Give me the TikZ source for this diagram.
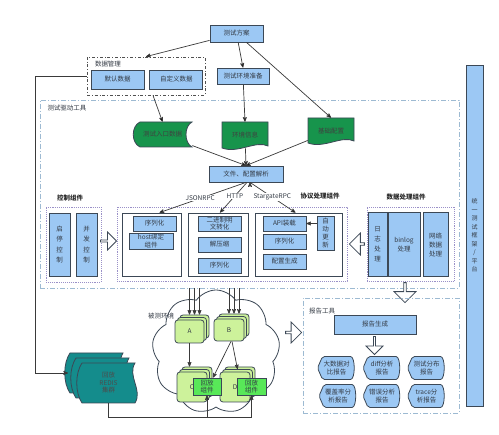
\documentclass[tikz,border=0pt]{standalone}
\usepackage{fontspec}
\setmainfont{Noto Sans CJK SC}
\usetikzlibrary{arrows,positioning,calc,shapes.arrows,shapes.symbols}
\definecolor{boxblue}{HTML}{9CC8F4}
\definecolor{boxline}{HTML}{3C4856}
\definecolor{txtgray}{HTML}{333A44}
\definecolor{linegray}{HTML}{3A3A3A}
\definecolor{groupgray}{HTML}{505050}
\definecolor{toolblue}{HTML}{9DBAD2}
\definecolor{dotpurple}{HTML}{9A90C8}
\definecolor{darkgreen}{HTML}{17944C}
\definecolor{lightgreen}{HTML}{CDF29B}
\definecolor{replaygreen}{HTML}{58E858}
\definecolor{teal}{HTML}{148C8C}

\begin{document}
\begin{tikzpicture}[x=1pt, y=-1pt, >=stealth', semithick, font=\fontsize{6.5}{7.5}\selectfont]
\tikzstyle{blue box}=[draw=boxline, fill=boxblue, line width=0.8pt, inner sep=0pt, align=center, text=txtgray]
\tikzstyle{white box}=[draw=boxline, fill=white, line width=0.8pt, inner sep=0pt]
\tikzstyle{group}=[draw=groupgray, dash dot, line width=0.8pt, inner sep=0pt]
\tikzstyle{tool}=[draw=toolblue, dash pattern=on 5pt off 2pt on 1pt off 2pt, line width=0.6pt, inner sep=0pt]
\tikzstyle{dots}=[draw=dotpurple, densely dotted, line width=0.9pt, inner sep=0pt]
\tikzstyle{green shape}=[draw=boxline, fill=darkgreen, line width=0.8pt]
\tikzstyle{green text}=[inner sep=0pt, text=black!75]
\tikzstyle{cell}=[draw=boxline, fill=lightgreen, rounded corners=3pt, line width=0.8pt, text=txtgray]
\tikzstyle{replay}=[draw=boxline, fill=replaygreen, line width=0.8pt, align=center, inner sep=0pt, text=txtgray, minimum height=17pt]
\tikzstyle{hollow}=[single arrow, draw=boxline, fill=white, line width=0.8pt, inner sep=0pt, single arrow head extend=3pt]
\tikzstyle{report}=[draw=boxline, fill=boxblue, line width=0.8pt, rounded corners=2pt]
\tikzstyle{title}=[font=\fontsize{6.5}{7.5}\selectfont\bfseries, text=black!85]
\tikzstyle{link}=[->, line width=0.7pt, draw=linegray]
\tikzstyle{proto label}=[fill=white, inner sep=0.5pt, text=txtgray]

\fill[white] (0,0) rectangle (499,435);
\useasboundingbox (0,0) rectangle (499,435);

% plan and data
\node[blue box, minimum width=53pt, minimum height=17pt] (plan) at (236.5,33.5) {测试方案};
\node[group, minimum width=118pt, minimum height=38pt]   (dm) at (146,76) {};
\node[text=txtgray]                                        (dmlabel) at (108,64) {数据管理};
\node[blue box, minimum width=53pt, minimum height=19pt] (defdata) at (117.5,79.5) {默认数据};
\node[blue box, minimum width=53pt, minimum height=19pt] (cusdata) [right=5pt of defdata] {自定义数据};
\node[blue box, minimum width=52pt, minimum height=16pt] (env) at (243,76) {测试环境准备};

% test driver tool
\node[tool, minimum width=419pt, minimum height=188pt] (drv) at (249.5,194) {};
\node[text=txtgray] (drvlabel) at (67,108) {测试驱动工具};

\filldraw[green shape] (140,122) -- (192,122) .. controls (184,126) and (184,143) .. (192,147)
    -- (140,147) .. controls (131,143) and (131,126) .. (140,122) -- cycle;
\filldraw[green shape] (222,122) -- (268,122) -- (268,146) .. controls (256,140) and (238,154) .. (222,148) -- cycle;
\filldraw[green shape] (308,118) -- (354,118) -- (354,141) .. controls (342,135) and (324,149) .. (308,143) -- cycle;
\node[green text, minimum width=59pt, minimum height=25pt] (entry)   at (162.5,134.5) {测试入口数据};
\node[green text, minimum width=46pt, minimum height=26pt] (envinfo) at (245,135) {环境信息};
\node[green text, minimum width=46pt, minimum height=26pt] (basecfg) at (331,131) {基础配置};
\node[blue box, minimum width=74pt, minimum height=16pt]   (parse)   at (246,174) {文件、配置解析};

% control components
\node[title] (ctrltitle) at (70,198) {控制组件};
\node[dots, minimum width=55pt, minimum height=75pt] (ctrl) at (73.5,244.5) {};
\node[blue box, minimum width=21pt, minimum height=63pt, font=\fontsize{6.5}{10.5}\selectfont] (ctrl1) at (59.5,244.5) {启\\停\\控\\制};
\node[blue box, minimum width=21pt, minimum height=63pt, font=\fontsize{6.5}{10.5}\selectfont] (ctrl2) at (86.5,244.5) {并\\发\\控\\制};
\node[hollow, minimum height=16pt, minimum width=18pt] (toproto) at (108,241) {};

% protocol components
\node[title] (prototitle) at (320,196) {协议处理组件};
\node[dots, minimum width=230pt, minimum height=74pt] (proto) at (232,244) {};
\node[white box, minimum width=59pt, minimum height=63pt] (json) at (151.5,244.5) {};
\node[blue box, minimum width=43pt, minimum height=15pt] (jser) at (154.5,223.5) {序列化};
\node[blue box, minimum width=44pt, minimum height=16pt] (host) at (151,241) {host绑定\\组件};
\node[white box, minimum width=60pt, minimum height=63pt] (http) at (218,244.5) {};
\node[blue box, minimum width=43pt, minimum height=15pt] (bin)   at (219.5,223.5) {二进制明\\文转化};
\node[blue box, minimum width=43pt, minimum height=15pt] (unzip) at (219.5,244.5) {解压缩};
\node[blue box, minimum width=43pt, minimum height=15pt] (hser)  at (219.5,265.5) {序列化};
\node[white box, minimum width=87pt, minimum height=63pt] (stg) at (298.5,244.5) {};
\node[blue box, minimum width=43pt, minimum height=15pt] (api)    at (284.5,223.5) {API装载};
\node[blue box, minimum width=43pt, minimum height=15pt] (sser)   at (284.5,241.5) {序列化};
\node[blue box, minimum width=43pt, minimum height=15pt] (cfggen) at (284.5,261.5) {配置生成};
\node[blue box, minimum width=17pt, minimum height=34pt, font=\fontsize{6.5}{8}\selectfont] (auto) at (325.5,233) {自\\动\\更\\新};
\draw[link] (auto.west |- api.east) -- (api.east);

% data components
\node[hollow, shape border rotate=180, minimum height=15pt, minimum width=22pt] (fromdata) at (357.5,244) {};
\node[title] (datatitle) at (406,197) {数据处理组件};
\node[dots, minimum width=87pt, minimum height=74pt] (data) at (410.5,244) {};
\node[blue box, minimum width=19pt, minimum height=64pt, font=\fontsize{6.5}{10}\selectfont] (log)    at (377.5,244.5) {日\\志\\处\\理};
\node[blue box, minimum width=32pt, minimum height=64pt, font=\fontsize{6.5}{9}\selectfont]  (binlog) at (404,244.5) {binlog\\处理};
\node[blue box, minimum width=25pt, minimum height=64pt, font=\fontsize{6.5}{9}\selectfont]  (net)    at (435.5,244.5) {网络\\数据\\处理};
\node[hollow, shape border rotate=270, minimum height=20pt, minimum width=22pt] (toreport) at (405,292) {};

% platform
\node[blue box, minimum width=17pt, minimum height=341pt, font=\fontsize{6}{8.5}\selectfont] (platform) at (474.5,235.5) {统\\一\\测\\试\\框\\架\\/\\平\\台};

% arrows in the top half
\path[link]
(plan)    edge (dm.north)
          edge (env.north)
          edge (basecfg.north)
(dm)      edge (entry.north)
(env)     edge (envinfo.north)
(entry)   edge (parse.north)
(envinfo) edge (parse.north)
(basecfg) edge (parse.north);
\path[link]
(parse.south) edge node[proto label, pos=0.53]{JSONRPC}     ([xshift=8pt]json.north)
([xshift=1pt]parse.south) edge node[proto label, pos=0.45]{HTTP}        ([xshift=2pt]http.north)
([xshift=4pt]parse.south) edge node[proto label, pos=0.49]{StargateRPC} ([xshift=-3pt]stg.north);

% system under test
\node[cloud, draw=boxline, line width=0.8pt, cloud puffs=9, cloud puff arc=110, aspect=1.05,
      minimum width=128pt, minimum height=124pt, inner sep=0pt] (sut) at (216,352) {};
\node[text=txtgray] (sutlabel) at (161,316) {被测环境};
\foreach \n/\x/\y/\w/\h in {A/189.5/331.5/29/23, B/229/330/30/22, C/192/387/30/30, D/235/387/30/30}{
  \node[cell, minimum width=\w pt, minimum height=\h pt] (\n3) at (\x+5,\y-5) {};
  \node[cell, minimum width=\w pt, minimum height=\h pt] (\n2) at (\x+2.5,\y-2.5) {};
  \node[cell, minimum width=\w pt, minimum height=\h pt] (\n)  at (\x,\y) {\n};
}
\node[replay, minimum width=28pt] (rc) at (207,386.5)   {回放\\组件};
\node[replay, minimum width=29pt] (rd) at (251.5,386.5) {回放\\组件};
\foreach \s/\d in {A/-5, A/0, A/5, B/-5, B/0, B/5}
  \draw[link] ($(\s3.north |- drv.south)+(\d,0)$) -- ($(\s3.north)+(\d,0)$);
\draw[link] (A.south) -- (A.south |- C3.north);
\draw[link] ([xshift=3pt]B.south) -- (D2.north);
\draw[link] ([xshift=2pt]B.south) -- ([xshift=6pt]rc.north);

% replay redis
\foreach \dx/\dy in {0/0, 6/5, 12/10}
  \filldraw[draw=boxline, fill=teal, line width=0.8pt]
    (70+\dx,353+\dy) -- (123+\dx,353+\dy) .. controls (115+\dx,366+\dy) and (131+\dx,380+\dy) .. (123+\dx,393+\dy)
    -- (70+\dx,393+\dy) .. controls (63+\dx,383+\dy) and (63+\dx,363+\dy) .. (70+\dx,353+\dy) -- cycle;
\node[inner sep=0pt, minimum width=53pt, minimum height=40pt, align=center, text=black!70] (redis) at (108.5,383) {回放\\REDIS\\集群};
\coordinate (redisin) at (68,373);
\coordinate (bus) at (251.5,417);
\draw[link] (dm.west) -- ++(-51,0) |- (redisin);
\draw[link] (redis.south) |- (bus) -- (rd.south);
\draw[link] (rc.south |- bus) -- (rc.south);

% report tool
\node[hollow, minimum height=16pt, minimum width=21pt] (tort) at (293,332.5) {};
\node[tool, minimum width=156pt, minimum height=115pt] (rpt) at (381,355.5) {};
\node[text=txtgray] (rptlabel) at (322,311) {报告工具};
\node[blue box, minimum width=82pt, minimum height=19pt] (gen) at (375,324.5) {报告生成};
\node[hollow, shape border rotate=270, minimum height=18pt, minimum width=17pt] (togen) at (374.5,345) {};
\foreach \n/\x/\y/\t in {r1/336/368/{大数据对\\比报告}, r2/381.5/368/{diff分析\\报告}, r3/426/368/{测试分布\\报告},
                         r4/337.5/396/{覆盖率分\\析报告}, r5/381.5/396/{错误分析\\报告}, r6/426/396/{trace分\\析报告}}{
  \filldraw[report] (\x-18.5,\y) -- (\x-13.5,\y-11.5) -- (\x+12.5,\y-11.5)
      .. controls (\x+19.5,\y-11.5) and (\x+19.5,\y+11.5) .. (\x+12.5,\y+11.5) -- (\x-13.5,\y+11.5) -- cycle;
  \node[align=center, inner sep=0pt, text=txtgray] (\n) at (\x+0.5,\y) {\t};
}
\end{tikzpicture}
\end{document}
